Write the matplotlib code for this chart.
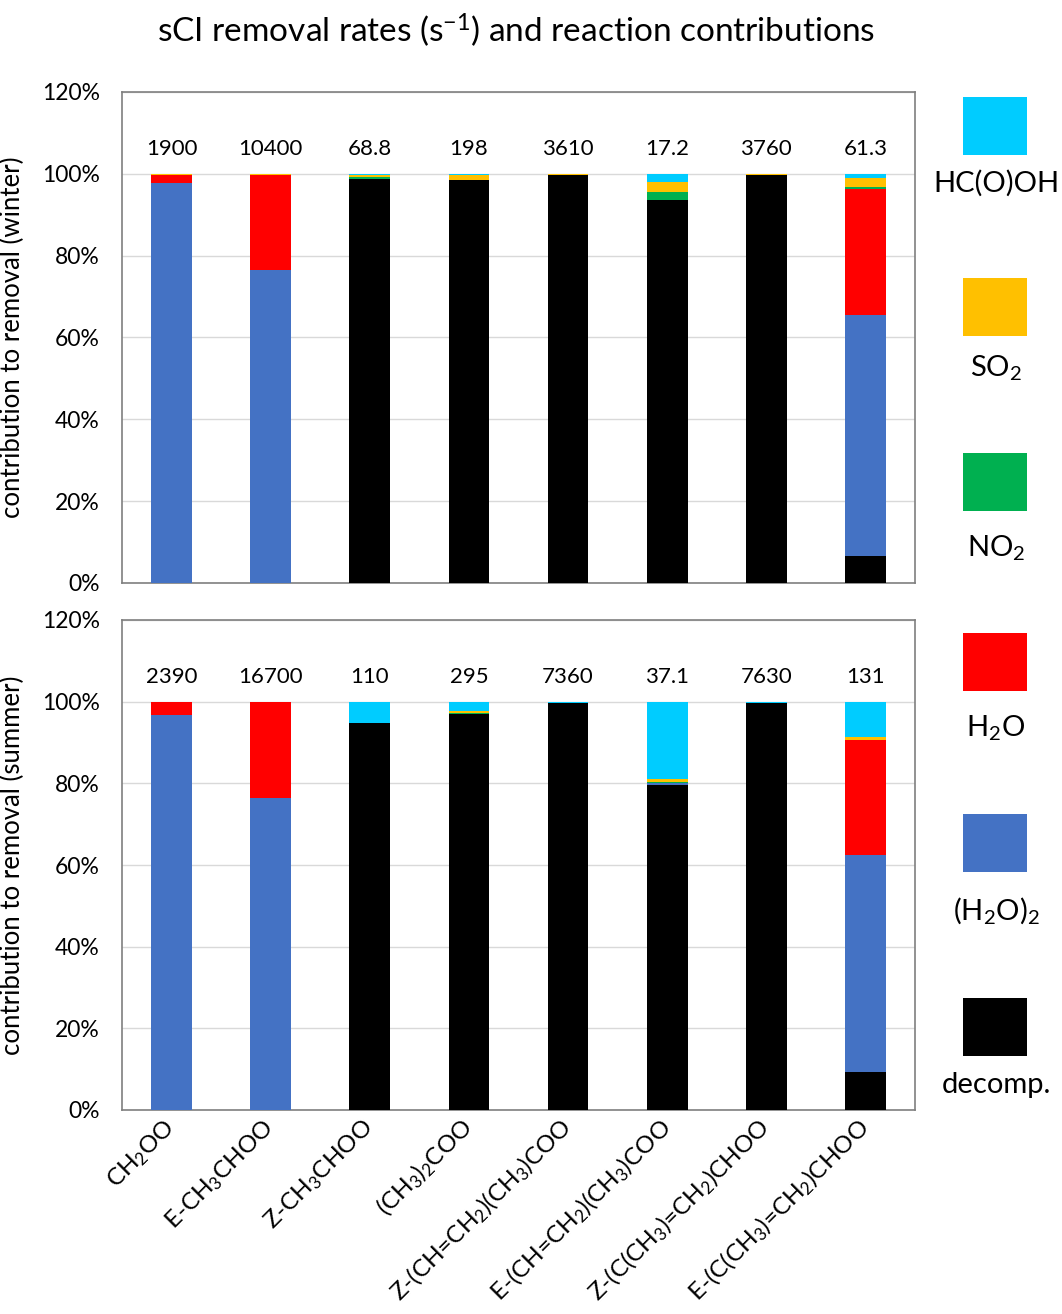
import matplotlib
matplotlib.use("Agg")
import matplotlib.pyplot as plt
from matplotlib.patches import Rectangle
import numpy as np

plt.rcParams['font.family'] = ['Lato', 'DejaVu Sans']
plt.rcParams['mathtext.fontset'] = 'custom'
plt.rcParams['mathtext.rm'] = 'Lato'
plt.rcParams['mathtext.it'] = 'Lato:italic'
plt.rcParams['mathtext.bf'] = 'Lato:bold'

categories = [r'CH$_\mathrm{2}$OO', r'E-CH$_\mathrm{3}$CHOO', r'Z-CH$_\mathrm{3}$CHOO',
              r'(CH$_\mathrm{3}$)$_\mathrm{2}$COO',
              r'Z-(CH=CH$_\mathrm{2}$)(CH$_\mathrm{3}$)COO',
              r'E-(CH=CH$_\mathrm{2}$)(CH$_\mathrm{3}$)COO',
              r'Z-(C(CH$_\mathrm{3}$)=CH$_\mathrm{2}$)CHOO',
              r'E-(C(CH$_\mathrm{3}$)=CH$_\mathrm{2}$)CHOO']

series_names = ['decomp.', r'(H$_\mathrm{2}$O)$_\mathrm{2}$', r'H$_\mathrm{2}$O',
                r'NO$_\mathrm{2}$', r'SO$_\mathrm{2}$', 'HC(O)OH']
series_colors = ['#000000', '#4472C4', '#FF0000', '#00B050', '#FFC000', '#00CCFF']

winter_rates = ['1900', '10400', '68.8', '198', '3610', '17.2', '3760', '61.3']
winter_decomp = [0, 0, 98.7, 98.4, 99.75, 93.5, 99.8, 6.7]
winter_dimer = [97.7, 76.5, 0, 0, 0, 0, 0, 58.9]
winter_h2o = [1.9, 23.2, 0, 0, 0, 0, 0, 30.7]
winter_no2 = [0.15, 0.1, 0.6, 0.05, 0.05, 2.0, 0.02, 0.4]
winter_so2 = [0.15, 0.1, 0.3, 1.2, 0.05, 2.4, 0.02, 2.3]
winter_hcooh = [0.1, 0.1, 0.4, 0.35, 0.15, 2.1, 0.16, 1.0]

summer_rates = ['2390', '16700', '110', '295', '7360', '37.1', '7630', '131']
summer_decomp = [0, 0, 94.7, 97.1, 99.75, 79.6, 99.75, 9.2]
summer_dimer = [96.7, 76.4, 0, 0, 0, 0.4, 0, 53.2]
summer_h2o = [3.1, 23.4, 0, 0, 0, 0.1, 0, 28.1]
summer_no2 = [0.05, 0.05, 0.1, 0.02, 0.02, 0.2, 0.02, 0.1]
summer_so2 = [0.05, 0.05, 0.05, 0.5, 0.02, 0.7, 0.02, 0.8]
summer_hcooh = [0.1, 0.1, 5.15, 2.38, 0.21, 19.0, 0.21, 8.6]

W, H = 1062, 1314
fig = plt.figure(figsize=(W / 100, H / 100), dpi=100)

def fx(px):
    return px / W

def fy(py):
    return 1 - py / H

ax_top = fig.add_axes([fx(122), fy(583), fx(915) - fx(122), fy(92) - fy(583)])
ax_bot = fig.add_axes([fx(122), fy(1110), fx(915) - fx(122), fy(620) - fy(1110)])

def draw_panel(ax, stacks, rates, ylabel, show_x):
    x = np.arange(len(categories))
    bottom = np.zeros(len(categories))
    for vals, col in zip(stacks, series_colors):
        v = np.array(vals, dtype=float)
        ax.bar(x, v, width=0.41, bottom=bottom, color=col, zorder=3)
        bottom += v
    for xi, r in zip(x, rates):
        ax.text(xi, 106, r, ha='center', va='center', fontsize=16, color='#000000')
    ax.set_xlim(-0.5, len(categories) - 0.5)
    ax.set_ylim(0, 120)
    ax.set_yticks(np.arange(0, 121, 20))
    ax.set_yticklabels([f'{v}%' for v in range(0, 121, 20)], fontsize=16.5)
    ax.grid(axis='y', color='#D9D9D9', linewidth=1, zorder=0)
    ax.set_axisbelow(True)
    for s in ax.spines.values():
        s.set_color('#7F7F7F')
        s.set_linewidth(1.2)
    ax.tick_params(axis='y', length=0, pad=16)
    ax.tick_params(axis='x', length=0, pad=10)
    ax.set_xticks(x)
    if show_x:
        ax.set_xticklabels(categories, rotation=45, ha='right', va='center',
                           rotation_mode='anchor', fontsize=17.5)
    else:
        ax.set_xticklabels([])
    ax.set_ylabel(ylabel, fontsize=18.5)
    ax.yaxis.set_label_coords(-0.122, 0.5)

draw_panel(ax_top, [winter_decomp, winter_dimer, winter_h2o, winter_no2, winter_so2, winter_hcooh],
           winter_rates, 'contribution to removal (winter)', False)
draw_panel(ax_bot, [summer_decomp, summer_dimer, summer_h2o, summer_no2, summer_so2, summer_hcooh],
           summer_rates, 'contribution to removal (summer)', True)

fig.text(fx(516), fy(30), r'sCI removal rates (s$^{\mathrm{-1}}$) and reaction contributions',
         ha='center', va='center', fontsize=24)

# legend (top to bottom)
legend_tops = [97, 278, 453, 633, 814, 998]
legend_label_y = [183, 368, 548, 728, 911, 1085]
order = [5, 4, 3, 2, 1, 0]
for top, ly, idx in zip(legend_tops, legend_label_y, order):
    fig.add_artist(Rectangle((fx(963), fy(top + 58)), fx(1027) - fx(963), fy(top) - fy(top + 58),
                             transform=fig.transFigure, facecolor=series_colors[idx],
                             edgecolor='none'))
    fig.text(fx(996), fy(ly), series_names[idx], ha='center', va='center', fontsize=21)

fig.savefig('out.png', dpi=100)
